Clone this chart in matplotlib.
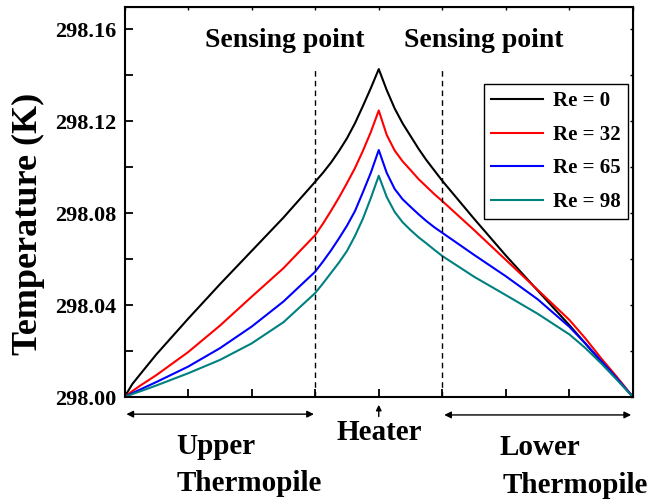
import numpy as np
import matplotlib
matplotlib.use('Agg')
import matplotlib.pyplot as plt
from matplotlib.ticker import FormatStrFormatter, MultipleLocator

# 1. Data (position along the sensor, temperature in K)
x_pos = [0, 0.125, 0.25, 0.5, 1, 1.5, 2, 2.5, 3,
         3.125, 3.25, 3.375, 3.5, 3.625, 3.75, 3.875, 4,
         4.125, 4.25, 4.375, 4.5, 4.625, 4.75, 4.875, 5,
         5.5, 6, 6.5, 7, 7.25, 7.5, 7.75, 8]
t_re0 = [298.0, 298.0057, 298.0100, 298.0185, 298.034, 298.049, 298.0635, 298.078, 298.0936,
         298.0976, 298.102, 298.107, 298.1125, 298.119, 298.1265, 298.1343, 298.1426,
         298.1335, 298.1255, 298.119, 298.1135, 298.108, 298.103, 298.0985, 298.094,
         298.0775, 298.0615, 298.0463, 298.0312, 298.0233, 298.0152, 298.0077, 298.0]
t_re32 = [298.0, 298.0026, 298.005, 298.0095, 298.0195, 298.031, 298.0436, 298.056, 298.0704,
          298.0755, 298.081, 298.0868, 298.093, 298.0995, 298.107, 298.1152, 298.1246,
          298.114, 298.1072, 298.1025, 298.0987, 298.0948, 298.0915, 298.0882, 298.0852,
          298.0726, 298.0596, 298.0466, 298.0335, 298.0255, 298.0168, 298.0086, 298.0]
t_re65 = [298.0, 298.0017, 298.0033, 298.0065, 298.0132, 298.0212, 298.0306, 298.0415, 298.0545,
          298.059, 298.0638, 298.069, 298.0745, 298.0808, 298.089, 298.0975, 298.1074,
          298.0975, 298.0905, 298.086, 298.0827, 298.0795, 298.0765, 298.0738, 298.0714,
          298.0618, 298.0525, 298.0425, 298.0305, 298.0233, 298.0157, 298.0080, 298.0]
t_re98 = [298.0, 298.0013, 298.0025, 298.005, 298.0103, 298.0161, 298.0233, 298.0325, 298.0452,
          298.0495, 298.054, 298.0585, 298.0635, 298.070, 298.0775, 298.0865, 298.0962,
          298.087, 298.0805, 298.076, 298.0726, 298.0695, 298.0668, 298.064, 298.0613,
          298.0523, 298.0443, 298.0362, 298.0272, 298.0213, 298.0146, 298.0074, 298.0]
labels = ['Re = 0', 'Re = 32', 'Re = 65', 'Re = 98']
colors = ['black', '#ff0000', '#0000ff', '#008080']
sensing_x = [3, 5]
heater_x = 4

plt.rcParams['font.family'] = ['Liberation Serif', 'DejaVu Serif']
plt.rcParams['font.weight'] = 'bold'

# 2. Figure and axes
fig = plt.figure(figsize=(6.69, 5.04), dpi=100)
ax = fig.add_axes([0.1861, 0.2123, 0.7601, 0.7738])

for t, lab, c in zip([t_re0, t_re32, t_re65, t_re98], labels, colors):
    ax.plot(x_pos, t, color=c, lw=1.5, label=lab)

ax.vlines(sensing_x, 298.0, 298.1425, colors='black', lw=1, linestyles=(0, (4, 3)))

ax.set_xlim(0, 8)
ax.set_ylim(298.0, 298.1696)
ax.xaxis.set_major_locator(MultipleLocator(1))
ax.yaxis.set_major_locator(MultipleLocator(0.04))
ax.yaxis.set_minor_locator(MultipleLocator(0.02))
ax.yaxis.set_major_formatter(FormatStrFormatter('%.2f'))
ax.set_xticklabels([])
ax.tick_params(which='both', direction='in', length=6, width=1.3,
               labelsize=16, pad=6)
for sp in ax.spines.values():
    sp.set_linewidth(1.5)

# small ticks on top and right
top = ax.secondary_xaxis('top')
top.xaxis.set_major_locator(MultipleLocator(1))
top.tick_params(direction='in', length=2.5, width=1, labeltop=False)
right = ax.secondary_yaxis('right')
right.yaxis.set_major_locator(MultipleLocator(0.02))
right.tick_params(direction='in', length=2.5, width=1, labelright=False)

fig.text(0.042, 0.5556, 'Temperature (K)', rotation=90, ha='center', va='center',
         fontsize=26, fontweight='bold')

# 3. Annotations
ax.text(1.27, 298.152, 'Sensing point', fontsize=20, fontweight='bold', va='baseline')
ax.text(4.39, 298.152, 'Sensing point', fontsize=20, fontweight='bold', va='baseline')

tr = ax.get_xaxis_transform()
arrow = dict(arrowstyle='<|-|>', color='black', lw=1, mutation_scale=10,
             shrinkA=0, shrinkB=0)
ax.annotate('', xy=(0.03, -0.044), xytext=(2.98, -0.044), xycoords=tr,
            textcoords=tr, arrowprops=arrow, annotation_clip=False)
ax.annotate('', xy=(5.03, -0.046), xytext=(7.97, -0.046), xycoords=tr,
            textcoords=tr, arrowprops=arrow, annotation_clip=False)
ax.annotate('', xy=(heater_x, -0.020), xytext=(heater_x, -0.050), xycoords=tr,
            textcoords=tr, annotation_clip=False,
            arrowprops=dict(arrowstyle='-|>', color='black', lw=1,
                            mutation_scale=8, shrinkA=0, shrinkB=0))

ax.text(3.33, -0.110, 'Heater', transform=tr, fontsize=21, va='baseline')
ax.text(0.81, -0.146, 'Upper', transform=tr, fontsize=21, va='baseline')
ax.text(0.82, -0.242, 'Thermopile', transform=tr, fontsize=21, va='baseline')
ax.text(5.90, -0.149, 'Lower', transform=tr, fontsize=21, va='baseline')
ax.text(5.95, -0.247, 'Thermopile', transform=tr, fontsize=21, va='baseline')

leg = ax.legend(loc='upper right', bbox_to_anchor=(0.991, 0.8026), fontsize=15,
                handlelength=2.5, handletextpad=0.5, labelspacing=0.65,
                borderpad=0.35, borderaxespad=0, fancybox=False,
                edgecolor='black', framealpha=1)
leg.get_frame().set_linewidth(1)

plt.savefig('out.png', dpi=100)
